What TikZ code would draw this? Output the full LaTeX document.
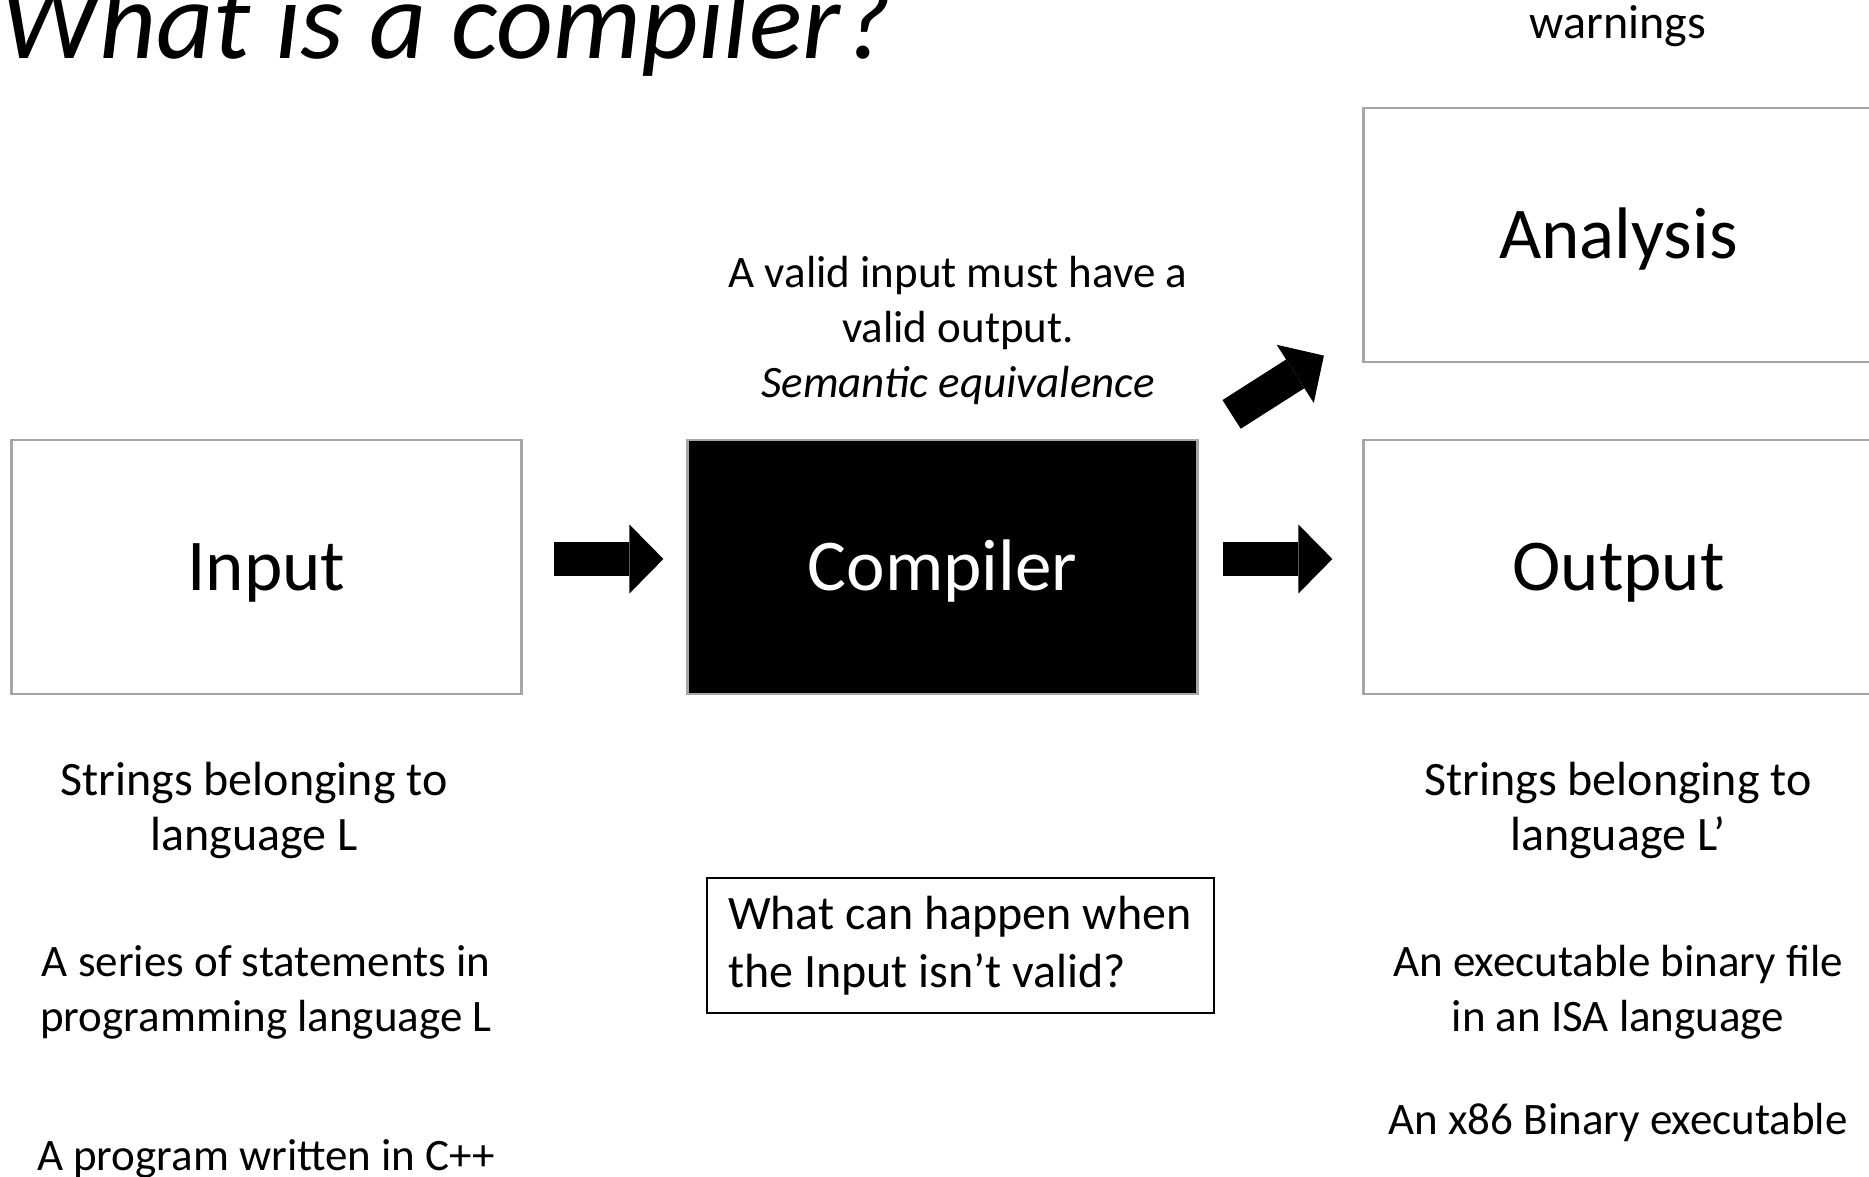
\documentclass[tikz,border=0pt]{standalone}
\usepackage{fontspec}
\setmainfont{Carlito}
\usetikzlibrary{arrows.meta}

\definecolor{boxgray}{HTML}{A6A6A6}

\tikzset{
	box/.style={draw=boxgray, line width=1.1pt, minimum width=255pt, minimum height=127pt, inner sep=0pt,
		font=\fontsize{36.5}{44}\selectfont, text height=23.5pt, text depth=0pt},
	txt/.style={font=\fontsize{22.5}{27.5}\selectfont, align=center, anchor=base, inner sep=0pt},
	bigtxt/.style={txt, font=\fontsize{24}{27.5}\selectfont},
	qbox/.style={draw, line width=1pt, font=\fontsize{24}{29}\selectfont, align=flush left,
		text width=232.5pt, inner xsep=10.5pt, minimum height=67.5pt, anchor=north west},
	blockarr/.style={line width=17pt, -{Triangle[length=17pt, width=34.5pt, line width=0pt]}},
}

\begin{document}
\begin{tikzpicture}[x=0.5pt, y=-0.5pt]
	\useasboundingbox (0,0) rectangle (1869,1177);
	\clip (0,0) rectangle (1869,1177);

	\draw (0,59) node[anchor=base west, inner sep=0pt, font=\fontsize{55.5}{60}\selectfont\itshape] (title) {What is a compiler?};
	\draw (1618,39) node[bigtxt] (warn) {warnings};

	\draw (266.5,567) node[box] (input) {Input};
	\draw (942.5,567) node[box, fill=black, draw=gray!70, text=white] (compiler) {Compiler};
	\draw (1618.5,567) node[box] (output) {Output};
	\draw (1618.5,235) node[box] (analysis) {Analysis};

	\draw[blockarr, shorten <=15.5pt, shorten >=11.5pt] ([yshift=4pt]input.east) -- ([yshift=4pt]compiler.west);
	\draw[blockarr, shorten <=12pt, shorten >=15pt] ([yshift=4pt]compiler.east) -- ([yshift=4pt]output.west);
	\draw[blockarr] ([shift={(16.5pt,12.25pt)}]compiler.north east) -- ([shift={(-19.25pt,3.75pt)}]analysis.south west);

	\draw (958,397) node[txt] (valid) {A valid input must have a\\valid output.\\\textit{Semantic equivalence}};

	\draw (254,850) node[bigtxt] (langL) {Strings belonging to\\language L};
	\draw (266,1031) node[txt] (stmts) {A series of statements in\\programming language L};
	\draw (266,1170) node[txt] (cpp) {A program written in C++};

	\draw (706,877) node[qbox] (invalid) {What can happen when\\the Input isn’t valid?};

	\draw (1618,850) node[bigtxt] (langLp) {Strings belonging to\\language L’};
	\draw (1618,1031) node[txt] (isa) {An executable binary file\\in an ISA language};
	\draw (1618,1134) node[txt] (x86) {An x86 Binary executable};
\end{tikzpicture}
\end{document}
